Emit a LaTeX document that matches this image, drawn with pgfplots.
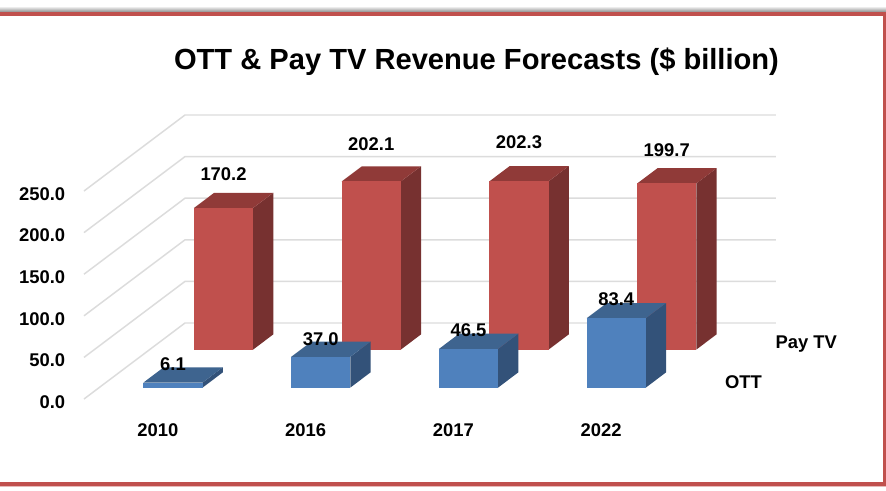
\documentclass[border=0pt]{standalone}
\usepackage{fontspec}
\setmainfont{Liberation Sans}
\usepackage{pgfplots}
\pgfplotsset{compat=1.18}
\definecolor{redF}{HTML}{C0504D}
\definecolor{redS}{HTML}{773130}
\definecolor{redT}{HTML}{903A38}
\definecolor{bluF}{HTML}{4F81BD}
\definecolor{bluS}{HTML}{335279}
\definecolor{bluT}{HTML}{3E648F}
\definecolor{gridc}{HTML}{DCDCDC}
% cuboid: x left, x right, depth front, depth back, value, colour prefix
\newcommand{\cuboid}[6]{%
  \addplot3[fill=#6S,draw=none] coordinates {(#2,#3,0)(#2,#4,0)(#2,#4,#5)(#2,#3,#5)};
  \addplot3[fill=#6T,draw=none] coordinates {(#1,#3,#5)(#2,#3,#5)(#2,#4,#5)(#1,#4,#5)};
  \addplot3[fill=#6F,draw=none] coordinates {(#1,#3,0)(#2,#3,0)(#2,#3,#5)(#1,#3,#5)};
}
\newcommand{\gridl}[1]{\addplot3[gridc,line width=1.1pt] coordinates {(0,0,#1)(0,2,#1)(4,2,#1)};}
\newcommand{\lab}[4]{\node[font=\bfseries\fontsize{13.8}{16}\selectfont,yshift=#3*0.75pt] at (axis cs:#1,#2,#4) {#4};}
\begin{document}
\begin{tikzpicture}[x=0.75pt,y=0.75pt]
\path[use as bounding box] (0,0) rectangle (886,490);
\fill[white] (0,0) rectangle (886,490);
\shade[top color=white,bottom color=black!45] (0,484) rectangle (886,478);
\fill[redF] (0,474) rectangle (886,478);
\fill[redF] (883,8) rectangle (886,478);
\fill[redF] (0,4) rectangle (886,8);
\fill[redF!40] (0,3) rectangle (886,4);
\node[font=\bfseries\fontsize{21.83}{24}\selectfont] at (476.5,428) {OTT \& Pay TV Revenue Forecasts (\$ billion)};
\begin{axis}[
  at={(63pt,68.25pt)},anchor=origin,
  x={(110.81pt,0pt)},y={(37.875pt,28.5pt)},z={(0pt,0.624pt)},
  xmin=0,xmax=4,ymin=0,ymax=2,zmin=0,zmax=250,
  clip=false,
  axis line style={draw=none},
  major tick length=0pt,minor tick num=0,
  xtick={0.5,1.5,2.5,3.5},xticklabels={2010,2016,2017,2022},
  ytick={0.5,1.5},yticklabels={OTT,Pay TV},
  ztick={0,50,100,150,200,250},
  /pgf/number format/fixed,/pgf/number format/fixed zerofill,
  /pgf/number format/precision=1,/pgf/number format/assume math mode=true,
  tick label style={font=\bfseries\fontsize{13.8}{16}\selectfont},
  x tick label style={anchor=center,yshift=-23.25pt},
  y tick label style={anchor=west,xshift=15.1pt,yshift=-1.5pt},
  z tick label style={anchor=east,xshift=-10.6pt,yshift=-2.25pt},
]
\gridl{0}\gridl{50}\gridl{100}\gridl{150}\gridl{200}\gridl{250}
\cuboid{0.3}{0.7}{1.3}{1.7}{170.2}{red}
\cuboid{1.3}{1.7}{1.3}{1.7}{202.1}{red}
\cuboid{2.3}{2.7}{1.3}{1.7}{202.3}{red}
\cuboid{3.3}{3.7}{1.3}{1.7}{199.7}{red}
\cuboid{0.3}{0.7}{0.3}{0.7}{6.1}{blu}
\cuboid{1.3}{1.7}{0.3}{0.7}{37.0}{blu}
\cuboid{2.3}{2.7}{0.3}{0.7}{46.5}{blu}
\cuboid{3.3}{3.7}{0.3}{0.7}{83.4}{blu}
\lab{0.5}{1.3}{34}{170.2}
\lab{1.5}{1.3}{37}{202.1}
\lab{2.5}{1.3}{39}{202.3}
\lab{3.5}{1.3}{33}{199.7}
\lab{0.5}{0.3}{18}{6.1}
\lab{1.5}{0.3}{18}{37.0}
\lab{2.5}{0.3}{19}{46.5}
\lab{3.5}{0.3}{19}{83.4}
\end{axis}
\end{tikzpicture}
\end{document}
